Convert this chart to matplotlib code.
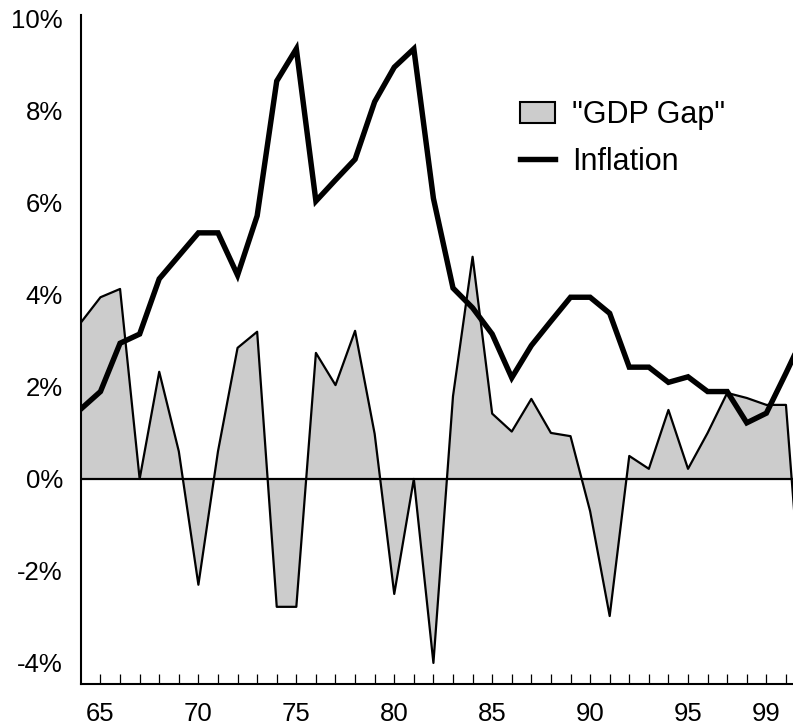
import matplotlib
matplotlib.use("Agg")
import matplotlib.pyplot as plt
from matplotlib.patches import Patch
from matplotlib.lines import Line2D
from matplotlib.ticker import FuncFormatter

plt.rcParams['font.family'] = ['Liberation Sans', 'DejaVu Sans']

# years as two-digit numbers, 1964 .. 2001 (chart is cut just after 2000)
years = list(range(64, 102))

inflation = [1.52, 1.9, 2.95, 3.15, 4.35, 4.85, 5.35, 5.35, 4.43, 5.72,
             8.65, 9.35, 6.04, 6.5, 6.95, 8.2, 8.95, 9.35, 6.1, 4.15,
             3.72, 3.15, 2.2, 2.9, 3.43, 3.95, 3.95, 3.6, 2.43, 2.43,
             2.1, 2.22, 1.9, 1.9, 1.22, 1.43, 2.3, 3.2]

gdp_gap = [3.4, 3.95, 4.13, 0.0, 2.33, 0.6, -2.3, 0.6, 2.85, 3.2,
           -2.78, -2.78, 2.74, 2.04, 3.22, 0.98, -2.5, 0.0, -4.0, 1.8,
           4.83, 1.42, 1.03, 1.74, 1.0, 0.93, -0.7, -2.98, 0.5, 0.22,
           1.5, 0.22, 1.0, 1.87, 1.76, 1.61, 1.61, -3.9]

label_years = [65, 70, 75, 80, 85, 90, 95, 99]
y_ticks = [-4, -2, 0, 2, 4, 6, 8, 10]

fig = plt.figure(figsize=(7.93, 7.27), dpi=100)
ax = fig.add_axes([0.102, 0.059, 0.898, 0.920])

ax.fill_between(years, gdp_gap, 0, facecolor='#cccccc', edgecolor='none', zorder=1)
ax.plot(years, gdp_gap, color='black', lw=1.6, zorder=2)
ax.axhline(0, color='black', lw=1.6, zorder=2)
ax.plot(years, inflation, color='black', lw=3.9, solid_joinstyle='miter', zorder=3)

ax.set_xlim(64, 100.36)
ax.set_ylim(-4.46, 10.08)

ax.spines['top'].set_visible(False)
ax.spines['right'].set_visible(False)
ax.spines['left'].set_linewidth(1.5)
ax.spines['bottom'].set_linewidth(1.5)

ax.set_xticks(label_years)
ax.set_xticklabels([str(y) for y in label_years])
ax.set_xticks(range(65, 101), minor=True)
ax.tick_params(axis='x', which='both', direction='in', length=7, width=0.9,
               labelsize=18.5, pad=13)
ax.set_yticks(y_ticks)
ax.yaxis.set_major_formatter(FuncFormatter(lambda v, p: f"{int(v)}%"))
ax.tick_params(axis='y', length=0, labelsize=18.5, pad=13)

handles = [Patch(facecolor='#cccccc', edgecolor='black', lw=1.5),
           Line2D([], [], color='black', lw=3.9)]
ax.legend(handles, ['"GDP Gap"', 'Inflation'], loc='upper left',
          bbox_to_anchor=(0.6166, 0.873), frameon=False, fontsize=22,
          borderpad=0, borderaxespad=0, labelspacing=0.54,
          handlelength=1.15, handletextpad=0.56)

fig.savefig('out.png', dpi=100)
